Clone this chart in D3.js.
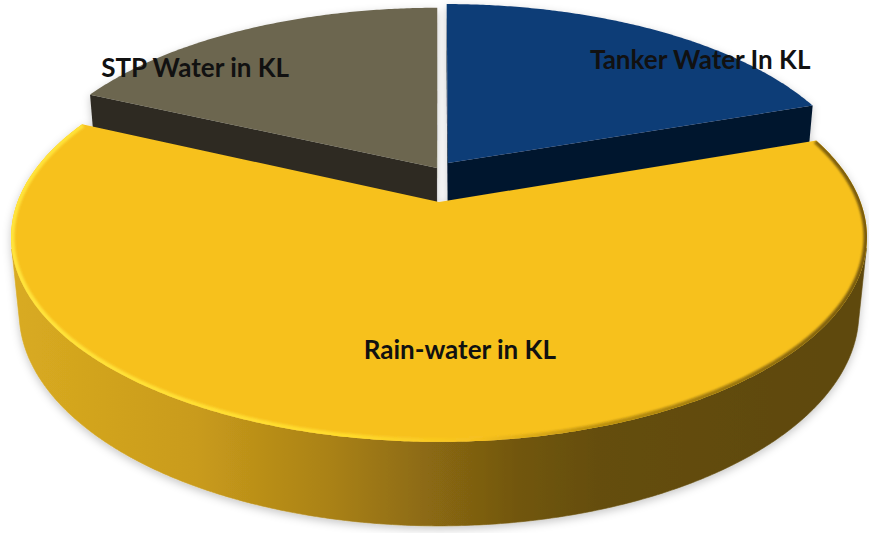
<!DOCTYPE html>
<html>
<head>
<meta charset="utf-8">
<script src="https://cdn.jsdelivr.net/npm/d3@7"></script>
<style>
  html, body { margin: 0; padding: 0; background: #ffffff; }
  svg { display: block; }
</style>
</head>
<body>
<svg id="chart" width="869" height="533"></svg>
<script>
// ---- data ----
const categories = ["Tanker Water In KL", "Rain-water in KL", "STP Water in KL"];
const shares = [19.7, 62.2, 18.1];

// ---- look ----
const topColors  = ["#113d77", "#f7c11f", "#6c6650"];
const wallColors = ["#06182f", "#c99b1b", "#2d2a21"];

// slice pull-out in pie-radius units: [sideways, backwards]
const pullOut = {
  "Tanker Water In KL": [0.022, 0.203],
  "Rain-water in KL":   [0, 0],
  "STP Water in KL":    [-0.005, 0.176]
};
// label anchor in pie space: [radius, angle in degrees clockwise from 12 o'clock]
const labelAnchor = {
  "Tanker Water In KL": [0.918, 48.2],
  "Rain-water in KL":   [0.661, 176.2],
  "STP Water in KL":    [0.875, 312.1]
};

// ---- camera / projection ----
const W = 869, H = 533;
const cx = 439, cy = 202;      // screen position of the pie's centre
const F = 421.6;               // screen radius scale
const sinT = 0.471, cosT = 0.882; // tilt of the view
const k = 0.195;               // radius / camera distance (perspective strength)
const thick = 0.2035;          // slab thickness in radius units
const Dc = cosT / k, Ds = sinT / k;

const xs = d3.scaleLinear().domain([-1, 1]).range([cx - F, cx + F]);
const ys = d3.scaleLinear().domain([-1, 1]).range([cy + F, cy - F]);

function project(u, v, z) {
  const den = 1 + k * cosT * v - k * sinT * z;
  return [xs(u / den), ys((sinT * v + cosT * z) / den)];
}

const svg = d3.select("#chart");
const defs = svg.append("defs");

const shadow = defs.append("filter").attr("id", "shadow")
  .attr("x", "-5%").attr("y", "-5%").attr("width", "110%").attr("height", "115%");
shadow.append("feDropShadow").attr("dx", 0).attr("dy", 3)
  .attr("stdDeviation", 4).attr("flood-color", "#000").attr("flood-opacity", 0.22);

const soft = defs.append("filter").attr("id", "soft")
  .attr("x", "-5%").attr("y", "-5%").attr("width", "110%").attr("height", "110%");
soft.append("feGaussianBlur").attr("stdDeviation", 1.3);

// gold wall shading: bright on the left, deep bronze on the right
const wallGrad = defs.append("linearGradient").attr("id", "goldWall")
  .attr("gradientUnits", "userSpaceOnUse")
  .attr("x1", 10).attr("y1", 0).attr("x2", 860).attr("y2", 0);
[[0, "#d9ab21"], [0.22, "#c99b1b"], [0.38, "#a98116"], [0.49, "#8c6a12"],
 [0.6, "#715610"], [0.69, "#654e0d"], [1, "#5e480b"]]
  .forEach(([o, c]) => wallGrad.append("stop").attr("offset", o).attr("stop-color", c));

// bevel along the gold rim
const rimGrad = defs.append("linearGradient").attr("id", "goldRim")
  .attr("gradientUnits", "userSpaceOnUse")
  .attr("x1", 10).attr("y1", 0).attr("x2", 860).attr("y2", 0);
[[0, "#ffe43c"], [0.4, "#ffdb2c"], [0.55, "#f7c11f"], [0.68, "#c2950f"], [1, "#7a5c0a"]]
  .forEach(([o, c]) => rimGrad.append("stop").attr("offset", o).attr("stop-color", c));

const pie = d3.pie().sort(null).value(d => d)
  .startAngle(0).endAngle(2 * Math.PI);
const arcs = pie(shares);

const line = d3.line();
const STEP = Math.PI / 360;

function sampleAngles(a0, a1) {
  const n = Math.max(2, Math.ceil((a1 - a0) / STEP));
  return d3.range(n + 1).map(i => a0 + (a1 - a0) * i / n);
}

const slices = arcs.map((a, i) => {
  const name = categories[i];
  const [ou, ov] = pullOut[name];
  const mid = (a.startAngle + a.endAngle) / 2;
  return {
    i, name, a0: a.startAngle, a1: a.endAngle, ou, ov,
    depth: ov + 0.5 * Math.cos(mid)
  };
});

const pt = (s, th, r, z) => project(s.ou + r * Math.sin(th), s.ov + r * Math.cos(th), z);

const gPie = svg.append("g").attr("filter", "url(#shadow)");

// far slices first
slices.slice().sort((p, q) => q.depth - p.depth).forEach(s => {
  const g = gPie.append("g");
  const wallFill = s.i === 1 ? "url(#goldWall)" : wallColors[s.i];

  // radial walls
  [[s.a0, -1], [s.a1, 1]].forEach(([th, side]) => {
    const n = side < 0 ? [-Math.cos(th), Math.sin(th)] : [Math.cos(th), -Math.sin(th)];
    const dot = s.ou * n[0] + (s.ov + Dc) * n[1];
    if (dot >= 0) return;
    const poly = [pt(s, th, 0, 0), pt(s, th, 1, 0), pt(s, th, 1, -thick), pt(s, th, 0, -thick)];
    g.append("path").attr("d", line(poly) + "Z")
      .attr("fill", wallColors[s.i === 1 ? 1 : s.i]);
  });

  // outer wall, front-facing runs only
  const angs = sampleAngles(s.a0, s.a1);
  const vis = th => 1 + s.ou * Math.sin(th) + (s.ov + Dc) * Math.cos(th) < 0;
  let run = [];
  const runs = [];
  angs.forEach(th => {
    if (vis(th)) run.push(th);
    else if (run.length) { runs.push(run); run = []; }
  });
  if (run.length) runs.push(run);
  runs.forEach(r => {
    const topEdge = r.map(th => pt(s, th, 1, 0));
    const botEdge = r.slice().reverse().map(th => pt(s, th, 1, -thick));
    g.append("path").attr("d", line(topEdge.concat(botEdge)) + "Z")
      .attr("fill", wallFill).attr("stroke", wallFill).attr("stroke-width", 0.6);
  });

  // top face
  const topPts = [pt(s, 0, 0, 0)].concat(angs.map(th => pt(s, th, 1, 0)));
  const topD = line(topPts) + "Z";
  g.append("path").attr("d", topD).attr("fill", topColors[s.i]);

  if (s.i === 1) {
    defs.append("clipPath").attr("id", "goldTopClip")
      .append("path").attr("d", topD);
    g.append("path")
      .attr("d", line(angs.map(th => pt(s, th, 1, 0))))
      .attr("fill", "none")
      .attr("stroke", "url(#goldRim)")
      .attr("stroke-width", 7)
      .attr("clip-path", "url(#goldTopClip)")
      .attr("filter", "url(#soft)");
  }
});

// labels
const gLab = svg.append("g")
  .attr("font-family", "Lato, 'Open Sans', sans-serif")
  .attr("font-weight", 700)
  .attr("font-size", 26)
  .attr("fill", "#111111")
  .attr("text-anchor", "middle");

slices.forEach(s => {
  const [r, deg] = labelAnchor[s.name];
  const th = deg * Math.PI / 180;
  const [x, y] = pt(s, th, r, 0);
  gLab.append("text").attr("x", x).attr("y", y).attr("dy", "0.36em").text(s.name);
});
</script>
</body>
</html>
